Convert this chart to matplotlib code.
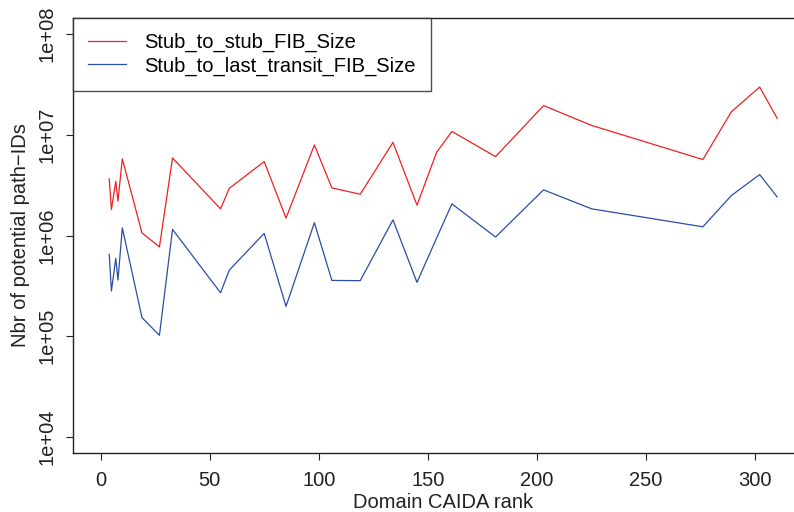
import numpy as np
import matplotlib
matplotlib.use("Agg")
import matplotlib.pyplot as plt

plt.rcParams['font.family'] = ['Liberation Sans', 'DejaVu Sans']

# CAIDA rank of each domain
rank = [4, 5, 7, 8, 10, 19, 27, 33, 55, 59, 75, 85, 98, 106, 119, 134,
        145, 154, 161, 181, 203, 225, 276, 289, 302, 310]

stub_to_stub = [3.65e6, 1.81e6, 3.45e6, 2.19e6, 5.77e6, 1.06e6, 7.7e5, 5.89e6,
                1.84e6, 2.94e6, 5.42e6, 1.49e6, 7.92e6, 2.97e6, 2.57e6, 8.41e6,
                2.0e6, 6.7e6, 1.08e7, 6.07e6, 1.95e7, 1.24e7, 5.68e6, 1.69e7,
                2.98e7, 1.46e7]

stub_to_last_transit = [6.49e5, 2.81e5, 5.92e5, 3.61e5, 1.19e6, 1.53e5, 1.02e5,
                        1.15e6, 2.7e5, 4.53e5, 1.05e6, 1.98e5, 1.34e6, 3.58e5,
                        3.56e5, 1.43e6, 3.42e5, 9.44e5, 2.06e6, 9.66e5, 2.84e6,
                        1.84e6, 1.22e6, 2.49e6, 4.03e6, 2.42e6]

yticks = [1e4, 1e5, 1e6, 1e7, 1e8]
ytick_labels = ['1e+04', '1e+05', '1e+06', '1e+07', '1e+08']
xticks = [0, 50, 100, 150, 200, 250, 300]

W, H = 794, 512
fig = plt.figure(figsize=(W / 100, H / 100), dpi=100)
# plot box runs a bit past the right edge of the picture (cropped like the original)
ax = fig.add_axes([73 / W, 1 - 453 / H, (814 - 73) / W, (453 - 18) / H])

ax.plot(rank, stub_to_stub, color='#f02020', lw=0.9, label='Stub_to_stub_FIB_Size')
ax.plot(rank, stub_to_last_transit, color='#2a4ea6', lw=0.9,
        label='Stub_to_last_transit_FIB_Size')

ax.set_yscale('log')
ax.set_ylim(10 ** 3.84, 10 ** 8.16)
ax.set_xlim(-12.6, 326.9)
ax.set_yticks(yticks)
ax.set_yticklabels(ytick_labels, rotation=90, va='center')
ax.minorticks_off()
ax.set_xticks(xticks)

ax.tick_params(direction='out', length=5, width=0.8, labelsize=14.5,
               colors='#222222')
ax.tick_params(axis='x', pad=8)
ax.tick_params(axis='y', pad=7)
for s in ax.spines.values():
    s.set_linewidth(1.0)
    s.set_color('#222222')

ax.set_xlabel('Domain CAIDA rank', fontsize=14.5, color='#222222', labelpad=2)
ax.set_ylabel('Nbr of potential path\u2212IDs', fontsize=14.5, color='#222222',
              labelpad=5)

leg = ax.legend(loc='upper left', bbox_to_anchor=(0, 1), borderaxespad=0,
                fontsize=14.5, frameon=True, fancybox=False, handlelength=1.9,
                handletextpad=0.9, borderpad=0.75, labelspacing=0.2)
leg.get_frame().set_edgecolor('#222222')
leg.get_frame().set_linewidth(1.0)

fig.savefig('out.png', dpi=100)
